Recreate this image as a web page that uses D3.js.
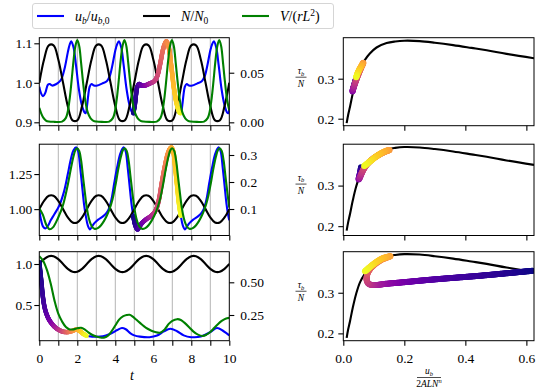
<!DOCTYPE html>
<html><head><meta charset="utf-8">
<script src="https://cdn.jsdelivr.net/npm/d3@7"></script>
<style>
body{margin:0;background:#fff;}
</style></head><body>
<svg id="chart" width="540" height="392" style="font-family:'Liberation Serif','DejaVu Serif','Times New Roman',serif"></svg>
<script>
// ---- data ----
// N/N0 forcing, same in all three rows (t step 0.25)
const tN = d3.range(0, 10.001, 0.25);
const nForcing = [1.000,1.059,1.095,1.095,1.059,1.000,0.941,0.905,0.905,0.941,
  1.000,1.059,1.095,1.095,1.059,1.000,0.941,0.905,0.905,0.941,
  1.000,1.059,1.095,1.095,1.059,1.000,0.941,0.905,0.905,0.941,
  1.000,1.059,1.095,1.095,1.059,1.000,0.941,0.905,0.905,0.941,1.000];

// row 1: u_b/u_b0 (left axis) and V/(rL^2) (right axis)
const ub1 = [[0,0.99],[0.08,0.975],[0.2,0.966],[0.32,0.975],[0.45,0.995],[0.55,0.997],[0.68,0.993],[0.9,0.997],[1.1,1.005],[1.2,1.014],[1.35,1.04],[1.5,1.077],[1.6,1.097],[1.68,1.105],
  [1.8,1.09],[1.93,1.045],[2.08,0.985],[2.23,0.945],[2.38,0.925],[2.44,0.923],
  [2.52,0.945],[2.58,0.97],[2.65,0.99],[2.75,0.997],[2.88,0.993],[3.05,0.993],[3.3,0.998],[3.55,1.004],[3.7,1.016],[3.85,1.045],[4.0,1.082],[4.1,1.098],[4.19,1.105],
  [4.31,1.09],[4.44,1.045],[4.59,0.985],[4.74,0.945],[4.88,0.925],[4.95,0.923],
  [5.03,0.945],[5.09,0.97],[5.16,0.99],[5.26,0.997],[5.38,0.993],[5.55,0.993],[5.8,0.998],[6.05,1.004],[6.2,1.016],[6.35,1.045],[6.5,1.082],[6.6,1.098],[6.69,1.105],
  [6.81,1.09],[6.94,1.045],[7.09,0.985],[7.24,0.945],[7.38,0.925],[7.45,0.923],
  [7.53,0.945],[7.59,0.97],[7.66,0.99],[7.76,0.997],[7.88,0.993],[8.05,0.993],[8.3,0.998],[8.55,1.004],[8.7,1.016],[8.85,1.045],[9.0,1.082],[9.1,1.098],[9.19,1.105],
  [9.31,1.09],[9.44,1.045],[9.59,0.985],[9.74,0.945],[9.88,0.925],[9.95,0.923],[10,0.935]];
const vol1 = [[0,0.0145],[0.1,0.009],[0.2,0.005],[0.35,0.0018],[0.5,0.0008],[0.8,0.0005],[1.2,0.0007],[1.4,0.0045],[1.5,0.011],[1.6,0.024],[1.7,0.042],[1.8,0.062],[1.9,0.077],[2.0,0.083],[2.1,0.077],[2.2,0.06],[2.3,0.041],[2.42,0.022],[2.55,0.01],[2.7,0.004],[2.85,0.0015],[3.0,0.0008],[3.3,0.0005],
  [3.68,0.0007],[3.88,0.0045],[3.98,0.011],[4.08,0.024],[4.18,0.042],[4.28,0.062],[4.38,0.077],[4.48,0.083],[4.58,0.077],[4.68,0.06],[4.78,0.041],[4.9,0.022],[5.03,0.01],[5.18,0.004],[5.33,0.0015],[5.48,0.0008],[5.8,0.0005],
  [6.18,0.0007],[6.38,0.0045],[6.48,0.011],[6.58,0.024],[6.68,0.042],[6.78,0.062],[6.88,0.077],[6.98,0.083],[7.08,0.077],[7.18,0.06],[7.28,0.041],[7.4,0.022],[7.53,0.01],[7.68,0.004],[7.83,0.0015],[7.98,0.0008],[8.3,0.0005],
  [8.67,0.0007],[8.87,0.0045],[8.97,0.011],[9.07,0.024],[9.17,0.042],[9.27,0.062],[9.37,0.077],[9.47,0.083],[9.57,0.077],[9.67,0.06],[9.77,0.041],[9.89,0.022],[10,0.012]];

// row 2
const ub2 = [[0,1.0],[0.08,0.93],[0.2,0.875],[0.32,0.862],[0.45,0.88],[0.6,0.92],[0.8,0.965],[1.05,1.025],[1.3,1.125],[1.5,1.25],[1.65,1.35],[1.8,1.42],[1.95,1.44],
  [2.05,1.41],[2.15,1.3],[2.25,1.17],[2.35,1.04],[2.45,0.95],[2.55,0.885],[2.67,0.855],[2.77,0.875],[2.9,0.9],[3.1,0.925],[3.35,0.948],[3.55,0.975],[3.67,1.005],[3.8,1.07],[3.95,1.19],[4.1,1.3],[4.25,1.39],[4.37,1.43],[4.45,1.44],
  [4.55,1.41],[4.65,1.3],[4.75,1.17],[4.85,1.04],[4.95,0.95],[5.05,0.885],[5.17,0.855],[5.27,0.875],[5.4,0.9],[5.6,0.925],[5.85,0.948],[6.05,0.975],[6.17,1.005],[6.3,1.07],[6.45,1.19],[6.6,1.3],[6.75,1.39],[6.87,1.43],[6.95,1.44],
  [7.05,1.41],[7.15,1.3],[7.25,1.17],[7.35,1.04],[7.45,0.95],[7.55,0.885],[7.67,0.855],[7.77,0.875],[7.9,0.9],[8.1,0.925],[8.35,0.948],[8.55,0.975],[8.67,1.005],[8.8,1.07],[8.95,1.19],[9.1,1.3],[9.25,1.39],[9.37,1.43],[9.45,1.44],
  [9.55,1.41],[9.65,1.3],[9.75,1.17],[9.85,1.04],[9.95,0.95],[10,0.92]];
const vol2 = [[0,0.103],[0.19,0.078],[0.37,0.041],[0.54,0.025],[0.72,0.032],[0.98,0.066],[1.25,0.115],[1.5,0.19],[1.65,0.245],[1.8,0.295],[1.9,0.318],[2.0,0.325],[2.1,0.315],[2.2,0.28],[2.3,0.22],[2.4,0.16],[2.5,0.105],[2.6,0.068],[2.7,0.045],[2.8,0.032],[2.9,0.027],[3.0,0.027],[3.1,0.03],
  [3.25,0.04],[3.4,0.055],[3.55,0.075],[3.7,0.1],[3.85,0.135],[4.0,0.185],[4.15,0.245],[4.3,0.295],[4.4,0.318],[4.5,0.325],[4.6,0.315],[4.7,0.28],[4.8,0.22],[4.9,0.16],[5.0,0.105],[5.1,0.068],[5.2,0.045],[5.3,0.032],[5.4,0.027],[5.5,0.027],[5.6,0.03],
  [5.75,0.04],[5.9,0.055],[6.05,0.075],[6.2,0.1],[6.35,0.135],[6.5,0.185],[6.65,0.245],[6.8,0.295],[6.9,0.318],[7.0,0.325],[7.1,0.315],[7.2,0.28],[7.3,0.22],[7.4,0.16],[7.5,0.105],[7.6,0.068],[7.7,0.045],[7.8,0.032],[7.9,0.027],[8.0,0.027],[8.1,0.03],
  [8.25,0.04],[8.4,0.055],[8.55,0.075],[8.7,0.1],[8.85,0.135],[9.0,0.185],[9.15,0.245],[9.3,0.295],[9.4,0.318],[9.5,0.325],[9.6,0.315],[9.7,0.28],[9.8,0.22],[9.9,0.16],[10,0.105]];

// row 3
const ub3 = [[0,1.02],[0.1,0.8],[0.2,0.58],[0.3,0.45],[0.45,0.35],[0.6,0.29],[0.8,0.235],[1.0,0.2],[1.25,0.175],[1.5,0.17],[1.75,0.185],[1.95,0.2],[2.15,0.18],[2.3,0.15],[2.5,0.125],[2.8,0.115],[3.2,0.115],[3.5,0.128],[3.8,0.155],[4.1,0.195],[4.35,0.22],[4.55,0.205],[4.8,0.155],[5.0,0.13],[5.3,0.115],[5.8,0.108],[6.2,0.128],[6.55,0.178],[6.9,0.21],[7.25,0.18],[7.6,0.13],[8.0,0.108],[8.5,0.115],[9.0,0.17],[9.35,0.22],[9.7,0.18],[10,0.13]];
const vol3 = [[0,0.70],[0.2,0.665],[0.4,0.595],[0.6,0.49],[0.8,0.36],[1.0,0.26],[1.2,0.2],[1.4,0.158],[1.6,0.14],[1.8,0.14],[2.0,0.148],[2.2,0.152],[2.4,0.138],[2.6,0.115],[2.8,0.097],[3.0,0.085],[3.2,0.078],[3.4,0.077],[3.6,0.09],[3.8,0.125],[4.0,0.17],[4.2,0.215],[4.4,0.24],[4.6,0.25],[4.75,0.252],[4.9,0.24],[5.1,0.215],[5.3,0.19],[5.5,0.165],[5.7,0.145],[5.9,0.13],[6.1,0.12],[6.35,0.115],[6.6,0.14],[6.8,0.18],[7.0,0.205],[7.25,0.218],[7.45,0.212],[7.65,0.19],[7.9,0.155],[8.1,0.125],[8.35,0.1],[8.6,0.09],[8.8,0.1],[9.0,0.12],[9.2,0.15],[9.4,0.18],[9.6,0.205],[9.8,0.222],[10,0.228]];

// highlighted cycle per row (t start, t end)
const cycleWindows = [[4.95, 7.45], [4.95, 7.45], [0, 2.5]];

// right column: steady sliding law tau_b/N vs u_b/(2ALN^n)
const slidingLaw = [[0.011,0.189],[0.016,0.21],[0.022,0.23],[0.031,0.263],[0.042,0.297],[0.055,0.326],[0.071,0.347],[0.087,0.363],[0.109,0.378],[0.142,0.389],[0.17,0.393],[0.2,0.395],[0.25,0.394],[0.3,0.39],[0.36,0.384],[0.42,0.377],[0.47,0.371],[0.535,0.362],[0.625,0.351]];
// phase-plane trajectories of the highlighted cycle: [x, y, fraction of cycle]
const loop1 = [[0.042,0.300,0.0],[0.036,0.285,0.1],[0.031,0.272,0.2],[0.03,0.268,0.27],[0.033,0.276,0.35],[0.04,0.292,0.45],[0.05,0.312,0.55],[0.06,0.33,0.65],[0.066,0.34,0.75],[0.06,0.333,0.82],[0.052,0.322,0.88],[0.046,0.312,0.94],[0.042,0.303,1.0]];
const loop2 = [[0.058,0.345,0.0],[0.056,0.335,0.08],[0.053,0.325,0.15],[0.05,0.315,0.25],[0.053,0.318,0.35],[0.06,0.33,0.44],[0.072,0.347,0.52],[0.092,0.363,0.6],[0.122,0.378,0.68],[0.152,0.388,0.76],[0.135,0.384,0.82],[0.11,0.373,0.88],[0.088,0.36,0.94],[0.068,0.348,1.0]];
const loop3 = [[0.62,0.354,0],[0.55,0.349,0.03],[0.45,0.342,0.07],[0.35,0.336,0.11],[0.27,0.331,0.16],[0.2,0.326,0.22],[0.14,0.322,0.3],[0.105,0.319,0.37],[0.085,0.321,0.43],[0.077,0.33,0.48],[0.077,0.34,0.52],[0.082,0.352,0.58],[0.1,0.368,0.64],[0.125,0.381,0.71],[0.155,0.39,0.78],[0.13,0.385,0.85],[0.1,0.371,0.92],[0.07,0.352,1.0]];

// axis limits and ticks
const leftLims = [[0.8914,1.1142],[0.812,1.463],[0.065,1.15]];
const rightLims = [[-0.0034,0.0853],[0.0019,0.34],[0.0535,0.734]];
const leftTicks = [[0.9,1.0,1.1],[1.0,1.25],[0.5,1.0]];
const leftFmt = [".1f",".2f",".1f"];
const rightTicks = [[0.0,0.05],[0.1,0.2,0.3],[0.25,0.5]];
const rightFmt = [".2f",".1f",".2f"];
const tTicks = d3.range(0, 11, 1);
const tLabels = [0,2,4,6,8,10];
const gridT = d3.range(1, 10, 1);
const xTicksR = [0,0.2,0.4,0.6];
const yTicksR = [0.2,0.3];
const yLimR = [[0.1825,0.4025],[0.177,0.402],[0.182,0.401]];
const xLimR = [0,0.625];

// ---- layout ----
const FONT = "'Liberation Serif','DejaVu Serif','Times New Roman',serif";
const svg = d3.select("#chart");
const rows = [[37.7,125.7],[144.2,235.5],[251.7,340.7]];
const leftX = [39.3,229.3], rightX = [343.3,534];
const FS = 13.5;

const xT = d3.scaleLinear().domain([0,10]).range(leftX);
const xR = d3.scaleLinear().domain(xLimR).range(rightX);

function styleAxis(g){
  g.attr("font-family", FONT).attr("font-size", FS);
  g.select(".domain").remove();
  g.selectAll(".tick line").attr("stroke","#000").attr("stroke-width",1.1);
  g.selectAll(".tick text").attr("font-family",FONT).style("font-size",FS+"px").attr("fill","#000");
}

// colour a curve along its length with plasma
function gradientCurve(g, pts, sx, sy, fr, width, dots){
  const line = d3.line().x(d=>sx(d[0])).y(d=>sy(d[1])).curve(d3.curveCatmullRom);
  const tmp = g.append("path").attr("fill","none");
  const cum = pts.map((p,i)=>{ if(i===0) return 0; tmp.attr("d", line(pts.slice(0,i+1))); return tmp.node().getTotalLength(); });
  tmp.attr("d", line(pts));
  const node = tmp.node(), total = node.getTotalLength();
  const step = 0.6;
  let prev = node.getPointAtLength(0), j = 0;
  for(let l=0; l<=total+0.01; l+=step){
    while(j < cum.length-2 && l > cum[j+1]) j++;
    const span = cum[j+1]-cum[j] || 1;
    const s = fr[j] + (fr[j+1]-fr[j])*Math.min(1,Math.max(0,(l-cum[j])/span));
    const p = node.getPointAtLength(Math.min(l,total));
    const c = d3.interpolatePlasma(s);
    if(dots){
      g.append("circle").attr("cx",p.x).attr("cy",p.y).attr("r",width/2).attr("fill",c);
    } else {
      g.append("line").attr("x1",prev.x).attr("y1",prev.y).attr("x2",p.x).attr("y2",p.y)
        .attr("stroke",c).attr("stroke-width",width).attr("stroke-linecap","round");
    }
    prev = p;
  }
  tmp.remove();
}

function txt(g){ return g.append("text").attr("font-family",FONT).attr("fill","#000"); }

const ubs = [ub1,ub2,ub3], vols = [vol1,vol2,vol3], loops = [loop1,loop2,loop3];
const nPts = tN.map((t,i)=>[t,nForcing[i]]);

rows.forEach((r,i)=>{
  const yL = d3.scaleLinear().domain(leftLims[i]).range([r[1],r[0]]);
  const yRt = d3.scaleLinear().domain(rightLims[i]).range([r[1],r[0]]);
  const g = svg.append("g");
  const cid = "clipL"+i;
  svg.append("clipPath").attr("id",cid).append("rect")
    .attr("x",leftX[0]).attr("y",r[0]).attr("width",leftX[1]-leftX[0]).attr("height",r[1]-r[0]);
  const body = g.append("g").attr("clip-path",`url(#${cid})`);
  body.selectAll(".grid").data(gridT).enter().append("line")
    .attr("x1",d=>xT(d)).attr("x2",d=>xT(d)).attr("y1",r[0]).attr("y2",r[1])
    .attr("stroke","#b4b4b4").attr("stroke-width",1);
  const lineL = d3.line().x(d=>xT(d[0])).y(d=>yL(d[1])).curve(d3.curveCatmullRom);
  const lineR = d3.line().x(d=>xT(d[0])).y(d=>yRt(d[1])).curve(d3.curveCatmullRom);
  body.append("path").attr("d",lineL(ubs[i])).attr("fill","none").attr("stroke","#0000ff").attr("stroke-width",2.1);
  body.append("path").attr("d",lineL(nPts)).attr("fill","none").attr("stroke","#000").attr("stroke-width",2.1);
  const w = cycleWindows[i];
  const seg = ubs[i].filter(d=>d[0]>=w[0]-1e-9 && d[0]<=w[1]+1e-9);
  gradientCurve(body, seg, xT, yL, seg.map(d=>(d[0]-w[0])/(w[1]-w[0])), 4.5, false);
  body.append("path").attr("d",lineR(vols[i])).attr("fill","none").attr("stroke","#008000").attr("stroke-width",2.1);
  g.append("rect").attr("x",leftX[0]).attr("y",r[0]).attr("width",leftX[1]-leftX[0]).attr("height",r[1]-r[0])
    .attr("fill","none").attr("stroke","#000").attr("stroke-width",1);
  g.append("g").attr("transform",`translate(${leftX[0]},0)`)
    .call(d3.axisLeft(yL).tickValues(leftTicks[i]).tickFormat(d3.format(leftFmt[i])).tickSize(5).tickPadding(2)).call(styleAxis);
  g.append("g").attr("transform",`translate(${leftX[1]},0)`)
    .call(d3.axisRight(yRt).tickValues(rightTicks[i]).tickFormat(d3.format(rightFmt[i])).tickSize(5).tickPadding(6)).call(styleAxis);
  g.append("g").attr("transform",`translate(0,${r[1]})`)
    .call(d3.axisBottom(xT).tickValues(tTicks).tickFormat(d=> (i===2 && tLabels.includes(d)) ? d : "").tickSize(5).tickPadding(7.5)).call(styleAxis);

  // right column
  const yR = d3.scaleLinear().domain(yLimR[i]).range([r[1],r[0]]);
  const gr = svg.append("g");
  const cr = "clipR"+i;
  svg.append("clipPath").attr("id",cr).append("rect")
    .attr("x",rightX[0]).attr("y",r[0]).attr("width",rightX[1]-rightX[0]).attr("height",r[1]-r[0]);
  const bodyR = gr.append("g").attr("clip-path",`url(#${cr})`);
  const lawLine = d3.line().x(d=>xR(d[0])).y(d=>yR(d[1])).curve(d3.curveCatmullRom);
  bodyR.append("path").attr("d",lawLine(slidingLaw)).attr("fill","none").attr("stroke","#000").attr("stroke-width",2.1);
  gradientCurve(bodyR, loops[i].map(d=>[d[0],d[1]]), xR, yR, loops[i].map(d=>d[2]), 6, true);
  gr.append("rect").attr("x",rightX[0]).attr("y",r[0]).attr("width",rightX[1]-rightX[0]).attr("height",r[1]-r[0])
    .attr("fill","none").attr("stroke","#000").attr("stroke-width",1);
  gr.append("g").attr("transform",`translate(${rightX[0]},0)`)
    .call(d3.axisLeft(yR).tickValues(yTicksR).tickFormat(d3.format(".1f")).tickSize(5).tickPadding(4)).call(styleAxis);
  gr.append("g").attr("transform",`translate(0,${r[1]})`)
    .call(d3.axisBottom(xR).tickValues(xTicksR).tickFormat(d=> i===2 ? d3.format(".1f")(d) : "").tickSize(5).tickPadding(7.5)).call(styleAxis);

  // tau_b / N label
  const yl = gr.append("g").attr("transform",`translate(301,${yR(0.3)-1.5})`);
  const num = txt(yl).attr("text-anchor","middle").attr("y",-3.2).style("font-size","9.5px");
  num.append("tspan").style("font-style","italic").text("τ");
  num.append("tspan").style("font-style","italic").style("font-size","6.5px").attr("dy",1.5).text("b");
  yl.append("line").attr("x1",-5.5).attr("x2",5.5).attr("y1",0).attr("y2",0).attr("stroke","#000").attr("stroke-width",0.7);
  txt(yl).attr("text-anchor","middle").attr("y",9.5).style("font-size","9.5px").style("font-style","italic").text("N");
});

// x labels
txt(svg).attr("x",132).attr("y",380).attr("text-anchor","middle").style("font-size","14px").style("font-style","italic").text("t");
const xl = svg.append("g").attr("transform","translate(429,377.5)");
const xn = txt(xl).attr("text-anchor","middle").attr("y",-3.2).style("font-size","9.5px");
xn.append("tspan").style("font-style","italic").text("u");
xn.append("tspan").style("font-style","italic").style("font-size","6.5px").attr("dy",1.5).text("b");
xl.append("line").attr("x1",-12).attr("x2",12).attr("y1",0).attr("y2",0).attr("stroke","#000").attr("stroke-width",0.7);
const xd = txt(xl).attr("text-anchor","middle").attr("y",9.5).style("font-size","9.5px");
xd.append("tspan").text("2");
xd.append("tspan").style("font-style","italic").text("ALN");
xd.append("tspan").style("font-style","italic").style("font-size","6.5px").attr("dy",-4).text("n");

// legend
const lg = svg.append("g");
lg.append("rect").attr("x",32.5).attr("y",3.5).attr("width",301).attr("height",25).attr("rx",2.5)
  .attr("fill","#fff").attr("stroke","#d0d0d0").attr("stroke-width",0.9);
const legendItems = [
  {x:37, color:"#0000ff", parts:[["u","i"],["b","is"],["/",""],["u","i"],["b","is"],[",0","s"]]},
  {x:143, color:"#000", parts:[["N","i"],["/",""],["N","i"],["0","s"]]},
  {x:242, color:"#008000", parts:[["V","i"],["/(",""],["rL","i"],["2","p"],[")",""]]}
];
legendItems.forEach(it=>{
  lg.append("line").attr("x1",it.x).attr("x2",it.x+27).attr("y1",16).attr("y2",16).attr("stroke",it.color).attr("stroke-width",2.1);
  const tx = txt(lg).attr("x",it.x+38).attr("y",20.5).style("font-size","14px");
  let shift = 0;
  it.parts.forEach(p=>{
    const ts = tx.append("tspan").text(p[0]);
    if(p[1].includes("i")) ts.style("font-style","italic");
    let target = 0;
    if(p[1].includes("s")) { ts.style("font-size","9.5px"); target = 3; }
    if(p[1].includes("p")) { ts.style("font-size","9.5px"); target = -5; }
    ts.attr("dy", target - shift); shift = target;
  });
});
</script>
</body></html>
